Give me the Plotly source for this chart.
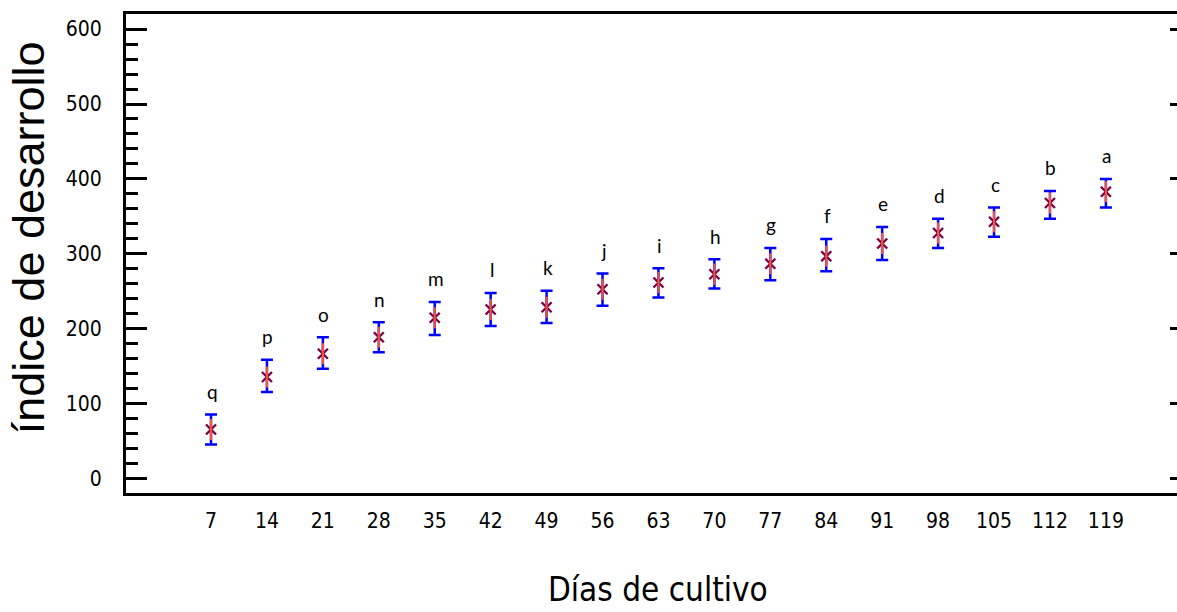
import plotly.graph_objects as go

days = [7, 14, 21, 28, 35, 42, 49, 56, 63, 70, 77, 84, 91, 98, 105, 112, 119]
means = [66, 136, 167, 189, 215, 226, 229, 253, 262, 273, 287, 297, 314, 328, 343, 368, 383]
upper = [86, 159, 189, 209, 236, 248, 251, 274, 281, 293, 308, 320, 336, 347, 362, 384, 400]
lower = [46, 116, 147, 169, 192, 204, 208, 231, 242, 254, 265, 277, 292, 308, 323, 347, 362]
letters = ["q", "p", "o", "n", "m", "l", "k", "j", "i", "h", "g", "f", "e", "d", "c", "b", "a"]
y_ticks = [0, 100, 200, 300, 400, 500, 600]

err_plus = [u - m for u, m in zip(upper, means)]
err_minus = [m - l for m, l in zip(means, lower)]

STAR = "#7a0045"
NARROW = "DejaVu Sans Condensed, Liberation Sans Narrow, Arial Narrow, sans-serif"
fig = go.Figure()
fig.add_trace(go.Scatter(
    x=days, y=means, mode="markers",
    marker=dict(symbol="x-thin-open", size=10, line=dict(color=STAR, width=2.4), color=STAR),
    error_y=dict(type="data", symmetric=False, array=err_plus, arrayminus=err_minus,
                 color="#0000ff", thickness=2.5, width=6),
    showlegend=False, hoverinfo="skip"))
fig.add_trace(go.Scatter(
    x=days, y=means, mode="markers",
    marker=dict(symbol="line-ns-open", size=15, line=dict(color=STAR, width=2.2)),
    showlegend=False, hoverinfo="skip"))
# invisible trace for right axis ticks
fig.add_trace(go.Scatter(x=days, y=means, yaxis="y2", mode="markers",
                         marker=dict(opacity=0), showlegend=False, hoverinfo="skip"))

for d, u, t in zip(days, upper, letters):
    fig.add_annotation(x=d, y=u, text=t, showarrow=False, yshift=23, yanchor="middle",
                       xshift=1, font=dict(family="Lato, Open Sans, sans-serif", size=19, color="#000"))

fig.add_annotation(xref="paper", yref="paper", x=-0.0932, y=0.532, text="índice de desarrollo",
                   textangle=-90, showarrow=False, xanchor="center", yanchor="middle",
                   font=dict(family="Liberation Sans, Arial, sans-serif", size=45, color="#000"))
fig.add_annotation(xref="paper", yref="paper", x=0.506, y=-0.2025, text="Días de cultivo",
                   showarrow=False, xanchor="center", yanchor="middle",
                   font=dict(family=NARROW, size=33, color="#000"))

fig.update_layout(
    width=1177, height=612,
    margin=dict(l=126, r=0, t=14, b=119),
    paper_bgcolor="white", plot_bgcolor="white",
    xaxis=dict(range=[-3.64, 127.9], tickmode="array", tickvals=days, ticktext=[str(d) for d in days],
               showgrid=False, zeroline=False, showline=True, linecolor="black", linewidth=3,
               mirror=True, ticks="", ticklabelstandoff=7,
               tickfont=dict(family=NARROW, size=21, color="#000")),
    yaxis=dict(range=[-18.7, 620], tickmode="array", tickvals=y_ticks,
               showgrid=False, zeroline=False, showline=True, linecolor="black", linewidth=3,
               ticks="inside", ticklen=21, tickwidth=3, tickcolor="black", ticklabelstandoff=17,
               minor=dict(ticks="inside", ticklen=12, tickwidth=2.5, tickcolor="black", dtick=20, tick0=0, showgrid=False),
               tickfont=dict(family=NARROW, size=21, color="#000")),
    yaxis2=dict(overlaying="y", side="right", matches="y", tickmode="array", tickvals=y_ticks,
                showticklabels=False, showgrid=False, zeroline=False, showline=False,
                ticks="inside", ticklen=7, tickwidth=3, tickcolor="black"),
)

fig.write_html("out.html")
